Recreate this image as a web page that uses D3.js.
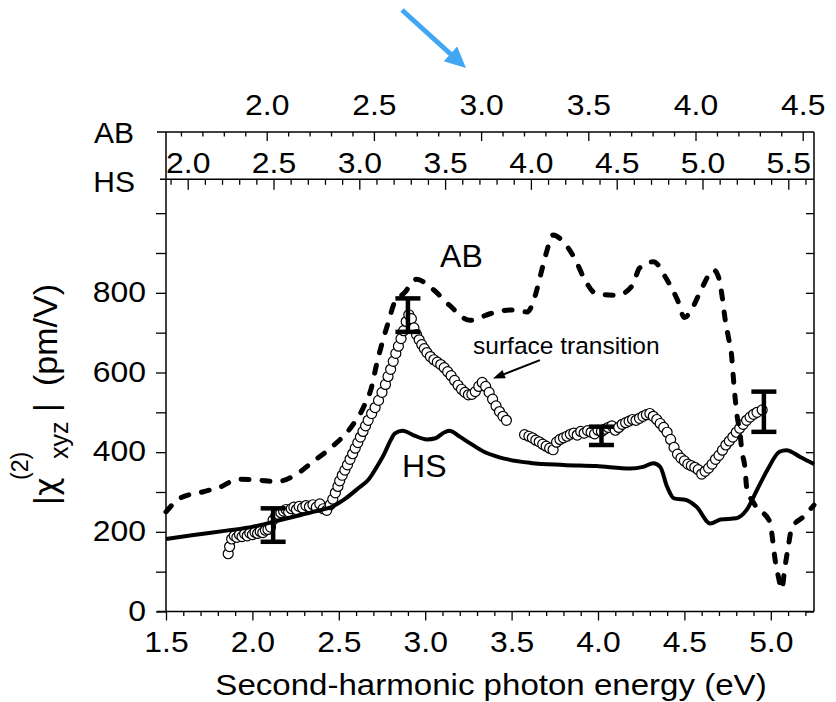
<!DOCTYPE html>
<html><head><meta charset="utf-8">
<script src="https://cdn.jsdelivr.net/npm/d3@7"></script>
<style>
html,body{margin:0;padding:0;background:#fff;}
svg{display:block;font-family:"Liberation Sans",Arial,sans-serif;}
</style></head><body>
<svg id="chart" width="836" height="702"></svg>
<script>
// ---------- data ----------
const xTicks = [1.5, 2.0, 2.5, 3.0, 3.5, 4.0, 4.5, 5.0];
const yTicks = [0, 200, 400, 600, 800];
const abTicks = [2.0, 2.5, 3.0, 3.5, 4.0, 4.5];
const hsTicks = [2.0, 2.5, 3.0, 3.5, 4.0, 4.5, 5.0, 5.5];

// AB calculation (dashed)
const abE = [1.50,1.58,1.71,1.81,1.92,2.03,2.14,2.25,2.35,2.46,2.57,2.64,2.69,2.72,2.75,2.79,2.82,2.88,2.95,3.05,3.14,3.26,3.38,3.49,3.59,3.64,3.67,3.70,3.74,3.80,3.87,3.92,3.99,4.11,4.20,4.24,4.32,4.40,4.46,4.50,4.55,4.60,4.67,4.70,4.72,4.735,4.754,4.774,4.783,4.793,4.803,4.822,4.832,4.851,4.860,4.909,4.995,5.011,5.024,5.044,5.063,5.082,5.101,5.121,5.188,5.25];
const abV = [250,284,300,312,332,330,326,343,376,413,462,510,564,623,673,731,773,800,834,807,769,731,748,757,752,798,849,899,945,928,882,836,798,794,819,862,878,832,782,738,765,811,857,836,786,736,690,639,589,539,497,447,405,359,313,267,225,179,133,87,56,112,163,209,238,267];

// HS calculation (solid)
const hsE = [1.50,1.66,1.85,2.005,2.12,2.24,2.35,2.47,2.54,2.62,2.67,2.72,2.76,2.80,2.825,2.87,2.93,3.01,3.06,3.10,3.14,3.20,3.26,3.34,3.43,3.61,3.80,3.99,4.19,4.26,4.32,4.36,4.40,4.44,4.51,4.57,4.65,4.71,4.80,4.86,4.92,4.98,5.05,5.09,5.17,5.25];
const hsV = [182,192,203,213,225,238,250,265,284,312,330,363,393,430,447,454,443,432,435,447,454,439,422,401,387,373,368,365,359,363,372,363,313,284,280,263,221,231,234,255,305,355,401,405,388,370];

// Experiment (open circles)
const expE = [1.860,1.868,1.880,1.895,1.910,1.925,1.940,1.955,1.970,1.985,2.000,2.015,2.030,2.045,2.060,2.075,2.090,2.105,2.120,2.135,2.150,2.165,2.180,2.195,2.210,2.225,2.240,2.255,2.270,2.290,2.310,2.330,2.350,2.370,2.390,2.410,2.430,2.450,2.465,2.480,2.495,2.505,2.520,2.535,2.550,2.565,2.580,2.595,2.610,2.625,2.640,2.655,2.670,2.690,2.710,2.730,2.750,2.770,2.785,2.800,2.815,2.830,2.845,2.860,2.875,2.890,2.905,2.920,2.935,2.950,2.965,2.980,2.995,3.010,3.030,3.050,3.070,3.090,3.110,3.130,3.150,3.170,3.190,3.210,3.230,3.250,3.270,3.290,3.310,3.330,3.350,3.370,3.390,3.410,3.430,3.450,3.470,3.575,3.600,3.620,3.640,3.660,3.680,3.700,3.720,3.740,3.760,3.780,3.800,3.820,3.840,3.860,3.880,3.900,3.920,3.940,3.960,3.980,4.000,4.020,4.040,4.060,4.080,4.100,4.120,4.140,4.160,4.180,4.200,4.220,4.240,4.260,4.280,4.300,4.320,4.340,4.360,4.380,4.400,4.420,4.440,4.460,4.480,4.500,4.520,4.540,4.560,4.580,4.600,4.620,4.640,4.660,4.680,4.700,4.720,4.740,4.760,4.780,4.800,4.820,4.840,4.860,4.880,4.900,4.920,4.950];
const expV = [145,163,182,190,186,193,188,195,190,197,193,199,196,201,198,204,206,212,230,240,244,248,252,256,250,258,262,256,264,260,266,263,268,262,270,258,254,268,282,298,314,328,342,355,368,382,396,410,424,438,452,466,480,497,512,530,550,570,590,608,628,648,666,685,705,728,745,735,712,695,682,670,660,650,640,632,626,620,612,602,592,580,568,558,550,544,545,552,565,575,565,550,533,516,502,490,480,444,440,436,430,426,420,415,410,406,425,432,436,440,445,448,443,452,448,454,450,446,455,452,458,462,466,455,462,470,474,478,482,480,485,490,494,497,490,482,472,462,450,432,412,395,385,378,370,366,362,356,345,352,360,370,382,392,405,418,428,438,450,460,470,480,488,495,500,506];

// Error bars
const errE  = [2.12, 2.90, 4.02, 4.96];
const errLo = [175, 702, 418, 451];
const errHi = [259, 786, 464, 552];

// ---------- setup ----------
const W = 836, H = 702;
const svg = d3.select("#chart");
svg.append("rect").attr("width", W).attr("height", H).attr("fill", "#fff");

const x = d3.scaleLinear().domain([1.5, 5.25]).range([166, 814]);
const y = d3.scaleLinear().domain([0, 1085]).range([611.5, 179.3]);
const abScale = d3.scaleLinear().domain([1.5303, 4.5527]).range(x.range());
const hsScale = d3.scaleLinear().domain([1.8735, 5.6498]).range(x.range());
const abAxisY = 132;
const hsAxisY = y.range()[1];
const fmt = d3.format(".1f");
const FONT = '"Liberation Sans", Arial, sans-serif';

function stretch(sel, k) {
  sel.each(function () {
    const w = this.getComputedTextLength();
    if (w > 0) d3.select(this).attr("textLength", w * k).attr("lengthAdjust", "spacingAndGlyphs");
  });
}
function styleAxis(g, fs) {
  g.select(".domain").remove();
  g.selectAll(".tick line").attr("stroke", "#000").attr("stroke-width", 1.3);
  g.selectAll("text").attr("fill", "#000").style("font-size", fs + "px").style("font-family", FONT);
}
const minorRange = (a, b) => d3.range(Math.round(a * 10), Math.round(b * 10) + 1).map(d => d / 10);
const notHalf = v => Math.abs(v * 2 - Math.round(v * 2)) > 1e-6;
const TFS = 29, TK = 1.1;

// bottom axis
let g = svg.append("g").attr("transform", `translate(0,${y(0)})`)
  .call(d3.axisBottom(x).tickValues(minorRange(1.6, 5.2).filter(notHalf)).tickSize(4.5).tickFormat(""));
styleAxis(g, TFS);
g = svg.append("g").attr("transform", `translate(0,${y(0)})`)
  .call(d3.axisBottom(x).tickValues(xTicks).tickSize(9).tickFormat(fmt));
styleAxis(g, TFS);
g.selectAll("text").attr("y", 40.2).attr("dy", "0").call(stretch, TK);

// left axis
const yAll = d3.range(0, 1001, 100);
g = svg.append("g").attr("transform", `translate(${x.range()[0]},0)`)
  .call(d3.axisLeft(y).tickValues(yAll).tickSize(10).tickPadding(10)
    .tickFormat(d => yTicks.includes(d) ? d : ""));
styleAxis(g, TFS);
g.selectAll("text").attr("dy", "0.3em").call(stretch, TK);

// right axis
g = svg.append("g").attr("transform", `translate(${x.range()[1]},0)`)
  .call(d3.axisRight(y).tickValues(yAll).tickSize(-8).tickFormat(""));
styleAxis(g, TFS);

// AB top axis
g = svg.append("g").attr("transform", `translate(0,${abAxisY})`)
  .call(d3.axisTop(abScale).tickValues(minorRange(1.6, 4.5).filter(notHalf)).tickSize(-4.5).tickFormat(""));
styleAxis(g, TFS);
g = svg.append("g").attr("transform", `translate(0,${abAxisY})`)
  .call(d3.axisTop(abScale).tickValues(abTicks).tickSize(-9).tickFormat(fmt));
styleAxis(g, TFS);
g.selectAll("text").attr("y", -17).attr("dy", "0").call(stretch, TK);

// HS axis
g = svg.append("g").attr("transform", `translate(0,${hsAxisY})`)
  .call(d3.axisTop(hsScale).tickValues(minorRange(1.9, 5.6).filter(notHalf)).tickSize(-5.5).tickFormat(""));
styleAxis(g, TFS);
g = svg.append("g").attr("transform", `translate(0,${hsAxisY})`)
  .call(d3.axisTop(hsScale).tickValues(hsTicks).tickSize(-10.5).tickFormat(fmt));
styleAxis(g, TFS);
g.selectAll("text").attr("y", -6.6).attr("dy", "0").call(stretch, TK);

// frame lines
const [xl, xr] = x.range();
const frame = svg.append("g").attr("stroke", "#000").attr("stroke-width", 1.5).attr("fill", "none");
frame.append("line").attr("x1", xl).attr("x2", xl).attr("y1", abAxisY).attr("y2", y(0));
frame.append("line").attr("x1", xr).attr("x2", xr).attr("y1", abAxisY).attr("y2", y(0));
frame.append("line").attr("x1", xl - 9).attr("x2", xr).attr("y1", abAxisY).attr("y2", abAxisY);
frame.append("line").attr("x1", xl - 6).attr("x2", xr).attr("y1", hsAxisY).attr("y2", hsAxisY);
frame.append("line").attr("x1", xl - 9).attr("x2", xr).attr("y1", y(0)).attr("y2", y(0));

// side labels AB / HS
svg.append("text").attr("x", 134).attr("y", 143).attr("text-anchor", "end")
  .style("font-size", "30px").attr("fill", "#000").text("AB");
svg.append("text").attr("x", 135).attr("y", 191.5).attr("text-anchor", "end")
  .style("font-size", "30px").attr("fill", "#000").text("HS");

// ---------- marks ----------
const plot = svg.append("g");
const expData = expE.map((e, i) => ({ e, v: expV[i] }));
plot.append("g").selectAll("circle").data(expData).join("circle")
  .attr("cx", d => x(d.e)).attr("cy", d => y(d.v)).attr("r", 5)
  .attr("fill", "#fff").attr("stroke", "#000").attr("stroke-width", 1.2);

const line = d3.line().x(d => x(d[0])).y(d => y(d[1])).curve(d3.curveMonotoneX);
plot.append("path").datum(abE.map((e, i) => [e, abV[i]]))
  .attr("d", line).attr("fill", "none").attr("stroke", "#000")
  .attr("stroke-width", 5).attr("stroke-linecap", "round").attr("stroke-dasharray", "8,13");
plot.append("path").datum(hsE.map((e, i) => [e, hsV[i]]))
  .attr("d", line).attr("fill", "none").attr("stroke", "#000")
  .attr("stroke-width", 4).attr("stroke-linejoin", "round");

// error bars
const eb = plot.append("g").attr("stroke", "#000").attr("stroke-width", 4.5);
errE.forEach((e, i) => {
  const cx = x(e), yl = y(errLo[i]), yh = y(errHi[i]);
  eb.append("line").attr("x1", cx).attr("x2", cx).attr("y1", yl).attr("y2", yh);
  eb.append("line").attr("x1", cx - 12.5).attr("x2", cx + 12.5).attr("y1", yl).attr("y2", yl);
  eb.append("line").attr("x1", cx - 12.5).attr("x2", cx + 12.5).attr("y1", yh).attr("y2", yh);
});

// in-plot labels
svg.append("text").attr("x", x(3.086)).attr("y", y(864)).style("font-size", "32px").attr("fill", "#000").text("AB");
svg.append("text").attr("x", x(2.866)).attr("y", y(337)).style("font-size", "32px").attr("fill", "#000").text("HS");
svg.append("text").attr("x", x(3.277)).attr("y", y(646)).style("font-size", "24.5px").attr("fill", "#000").text("surface transition");

// arrows
function arrow(sel, x1, y1, x2, y2, color, lw, hl, hw) {
  const dx = x2 - x1, dy = y2 - y1, L = Math.hypot(dx, dy);
  const ux = dx / L, uy = dy / L, px = -uy, py = ux;
  const bx = x2 - ux * hl, by = y2 - uy * hl;
  sel.append("line").attr("x1", x1).attr("y1", y1).attr("x2", bx + ux * 2).attr("y2", by + uy * 2)
    .attr("stroke", color).attr("stroke-width", lw);
  sel.append("path").attr("d", `M${x2},${y2}L${bx + px * hw},${by + py * hw}L${bx - px * hw},${by - py * hw}Z`)
    .attr("fill", color);
}
arrow(svg, x(3.664), y(631), x(3.392), y(585), "#000", 2, 12, 4.5);
arrow(svg, 402, 10, 466, 68, "#41A7F3", 5, 21, 10);

// y-axis title
const yt = svg.append("g").attr("transform", "translate(57,505) rotate(-90)").attr("fill", "#000");
yt.append("text").attr("x", 0).attr("y", 0).style("font-size", "34px").text("|");
yt.append("text").attr("x", 9).attr("y", 0).style("font-size", "32px")
  .style("font-family", '"DejaVu Sans", sans-serif').text("χ");
yt.append("text").attr("x", 25).attr("y", -29).style("font-size", "23px").text("(2)");
yt.append("text").attr("x", 46).attr("y", 11).style("font-size", "25px").text("xyz");
yt.append("text").attr("x", 93).attr("y", 0).style("font-size", "34px").text("|");
yt.append("text").attr("x", 119).attr("y", 0).style("font-size", "34px").text("(pm/V)");

// x-axis title
svg.append("text").attr("x", 491).attr("y", 695).attr("text-anchor", "middle")
  .style("font-size", "29px").attr("fill", "#000").text("Second-harmonic photon energy (eV)")
  .call(stretch, 1.14);
</script>
</body></html>
